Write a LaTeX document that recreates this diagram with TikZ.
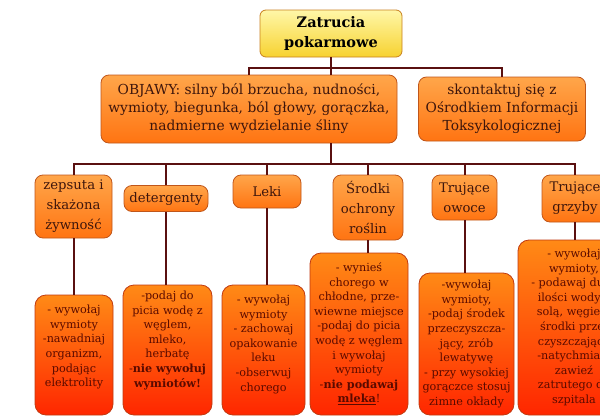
\documentclass[tikz,border=0pt]{standalone}
\usepackage{fontspec}
\setmainfont{DejaVu Serif}
\definecolor{linkcol}{HTML}{5A1010}
\definecolor{roottop}{HTML}{FFF7A8}
\definecolor{rootbot}{HTML}{F7D230}
\definecolor{rootedge}{HTML}{C8801E}
\definecolor{midtop}{HTML}{FFA64A}
\definecolor{midbot}{HTML}{FF7412}
\definecolor{midedge}{HTML}{C0561A}
\definecolor{midtext}{HTML}{3E160C}
\definecolor{leaftop}{HTML}{FF8A16}
\definecolor{leafbot}{HTML}{FF2600}
\definecolor{leafedge}{HTML}{C03A10}
\definecolor{leaftext}{HTML}{5A0A00}
\tikzset{rootbox/.style={draw=rootedge,line width=0.8pt,rounded corners=6pt,
        top color=roottop,bottom color=rootbot,align=center,inner sep=2pt,
        font=\bfseries\fontsize{14.5}{20}\selectfont},
    midbox/.style={draw=midedge,line width=0.8pt,rounded corners=8pt,
        top color=midtop,bottom color=midbot,align=center,inner sep=2pt,
        text=midtext,font=\fontsize{13.8}{18}\selectfont},
    catbox/.style={midbox,font=\fontsize{13.2}{20}\selectfont},
    leafbox/.style={draw=leafedge,line width=0.8pt,rounded corners=11pt,
        top color=leaftop,bottom color=leafbot,align=center,inner sep=2pt,
        text=leaftext,font=\fontsize{11.2}{14.6}\selectfont},
    link/.style={draw=linkcol,line width=2pt}
}

\begin{document}
\begin{tikzpicture}[x=1pt,y=-1pt]
    \useasboundingbox (0,0) rectangle (600,418);

    % Title
    \node[rootbox,minimum width=142pt,minimum height=47pt] (title) at (331,33.5) {Zatrucia\\pokarmowe};

    % Symptoms and contact
    \node[midbox,minimum width=296pt,minimum height=68pt] (objawy) at (249,109)
        {OBJAWY: silny ból brzucha, nudności,\\wymioty, biegunka, ból głowy, gorączka,\\nadmierne wydzielanie śliny};
    \node[midbox,minimum width=167pt,minimum height=64pt] (kontakt) at (502,109)
        {skontaktuj się z\\Ośrodkiem Informacji\\Toksykologicznej};
    \coordinate (bar1) at (331,68);
    \draw[link] (objawy.north) |- (bar1) -| (kontakt.north);
    \draw[link] (title.south) -- (title.south |- objawy.north);

    % Causes
    \node[catbox,minimum width=77pt,minimum height=63pt] (zywnosc) at (73.5,206.5) {zepsuta i\\skażona\\żywność};
    \node[catbox,minimum width=84pt,minimum height=26pt] (detergenty) at (166,198.5) {detergenty};
    \node[catbox,minimum width=68pt,minimum height=33pt] (leki) at (267,191.5) {Leki};
    \node[catbox,minimum width=70pt,minimum height=65pt] (srodki) at (368,207.5) {Środki\\ochrony\\roślin};
    \node[catbox,minimum width=65pt,minimum height=45pt] (owoce) at (464.5,197.5) {Trujące\\owoce};
    \node[catbox,minimum width=66pt,minimum height=47pt] (grzyby) at (575,198.5) {Trujące\\grzyby};
    \coordinate (bar2) at (331,164);
    \draw[link] (objawy.south -| bar2) -- (bar2);
    \draw[link] (zywnosc.north) |- (bar2) -| (grzyby.north);
    \foreach \n in {detergenty,leki,srodki,owoce}
        \draw[link] (\n.north) -- (\n.north |- bar2);

    % First aid
    \node[leafbox,minimum width=78pt,minimum height=120pt,text depth=18pt] (pomoc1) at (74,355)
        {- wywołaj\\wymioty\\-nawadniaj\\organizm,\\podając\\elektrolity};
    \node[leafbox,minimum width=89pt,minimum height=130pt,text depth=22pt] (pomoc2) at (167.5,350)
        {-podaj do\\picia wodę z\\węglem,\\mleko,\\herbatę\\-\textbf{nie wywołuj}\\\textbf{wymiotów!}};
    \node[leafbox,minimum width=83pt,minimum height=130pt,text depth=14pt] (pomoc3) at (263.5,350)
        {- wywołaj\\wymioty\\- zachowaj\\opakowanie\\leku\\-obserwuj\\chorego};
    \node[leafbox,minimum width=98pt,minimum height=162pt] (pomoc4) at (359,334)
        {- wynieś\\chorego w\\chłodne, prze-\\wiewne miejsce\\-podaj do picia\\wodę z węglem\\i wywołaj\\wymioty\\-\textbf{nie podawaj}\\\underline{\textbf{mleka}}!};
    \node[leafbox,minimum width=95pt,minimum height=142pt] (pomoc5) at (466.5,344)
        {-wywołaj\\wymioty,\\-podaj środek\\przeczyszcza-\\jący, zrób\\lewatywę\\- przy wysokiej\\gorączce stosuj\\zimne okłady};
    \node[leafbox,minimum width=112pt,minimum height=175pt] (pomoc6) at (574,327.5)
        {- wywołaj\\wymioty,\\- podawaj duże\\ilości wody z\\solą, węgiel i\\środki prze-\\czyszczające\\-natychmiast\\zawieź\\zatrutego do\\szpitala};
    \draw[link] (zywnosc.south) -- (zywnosc.south |- pomoc1.north);
    \draw[link] (detergenty.south) -- (detergenty.south |- pomoc2.north);
    \draw[link] (leki.south) -- (leki.south |- pomoc3.north);
    \draw[link] (srodki.south) -- (srodki.south |- pomoc4.north);
    \draw[link] (owoce.south) -- (owoce.south |- pomoc5.north);
    \draw[link] (grzyby.south) -- (grzyby.south |- pomoc6.north);
\end{tikzpicture}
\end{document}
